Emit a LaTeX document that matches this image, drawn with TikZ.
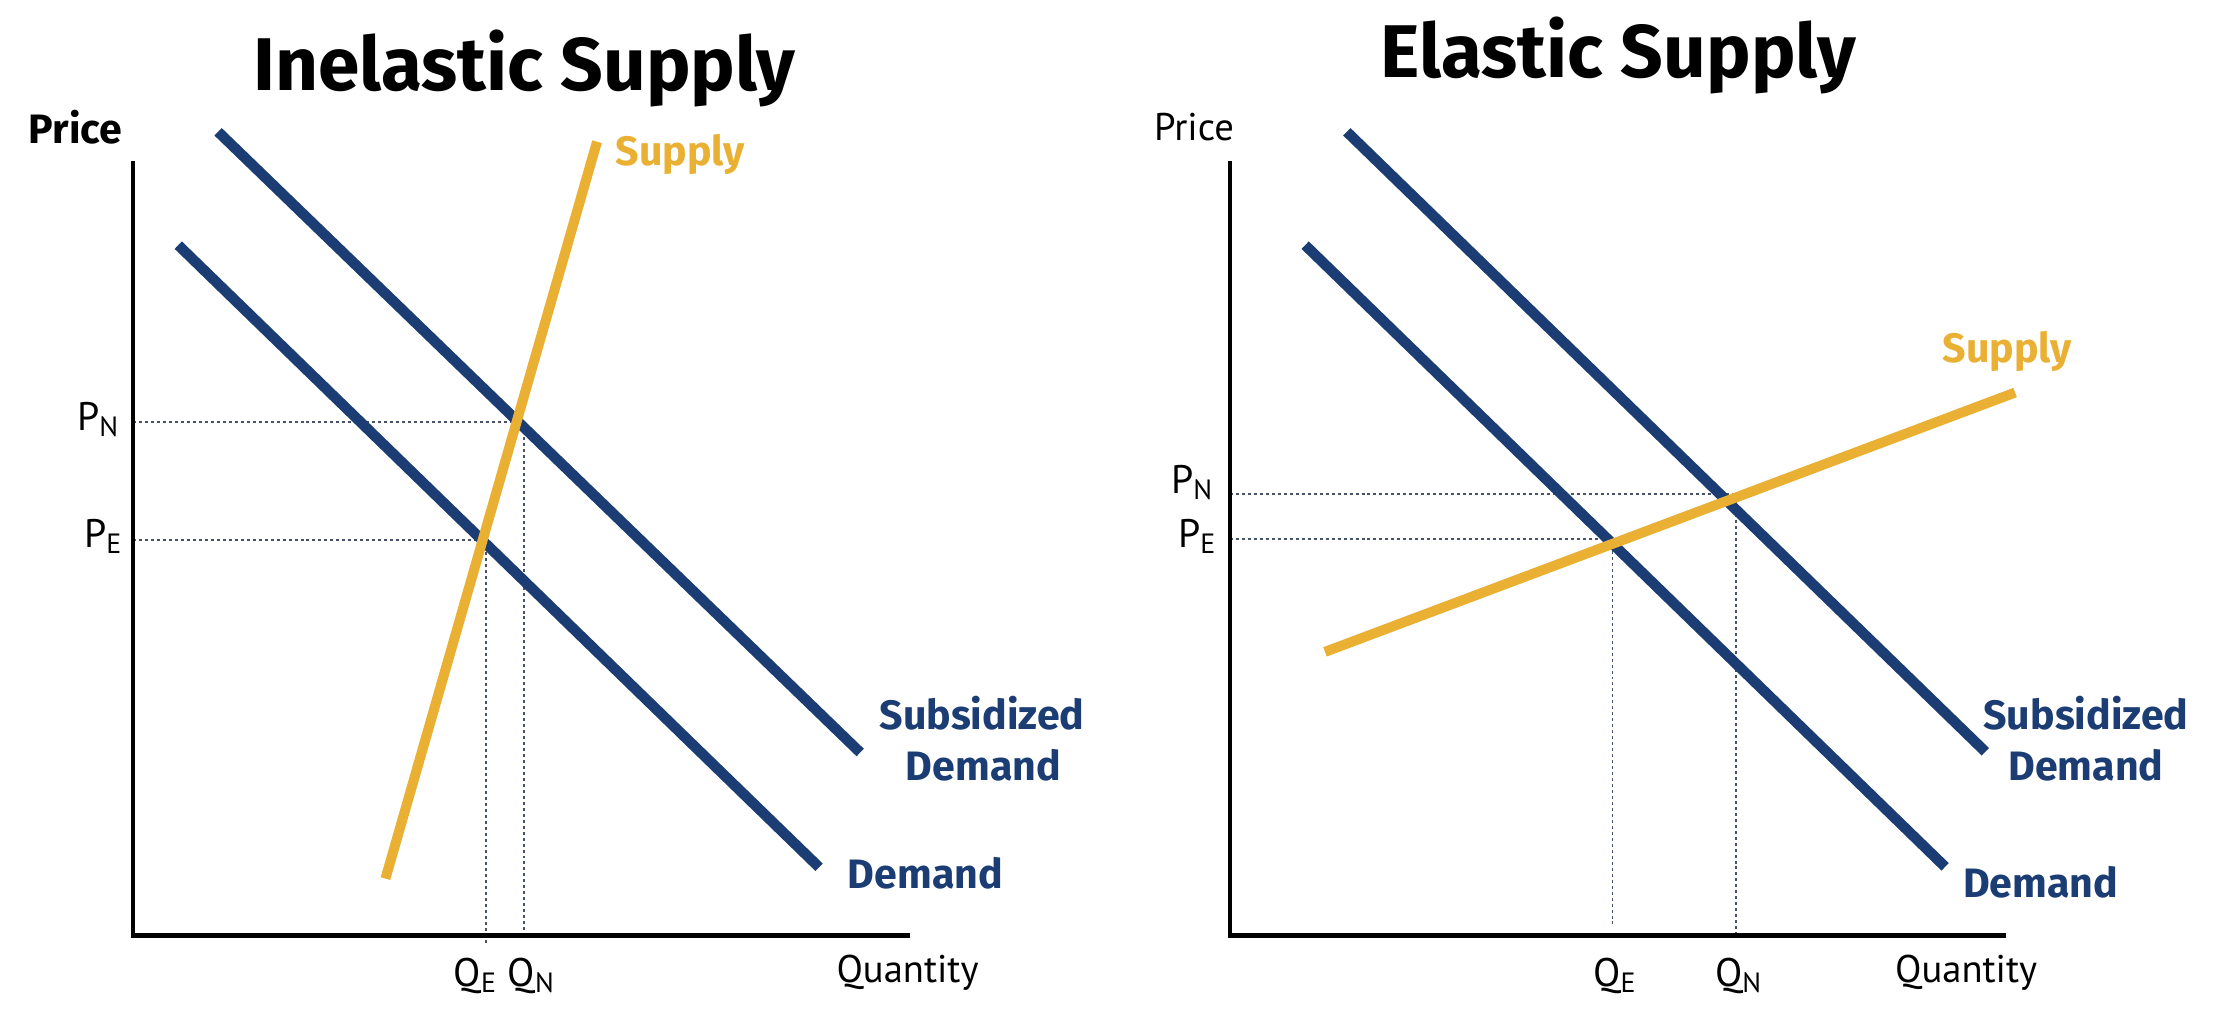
\documentclass[tikz,border=0pt]{standalone}
\usepackage{fontspec}
\setmainfont{PT Sans}
\newfontfamily\heavy{Fira Sans}
\definecolor{navy}{RGB}{27,61,115}
\definecolor{gold}{RGB}{233,176,51}
\definecolor{guidegray}{RGB}{72,82,105}

\begin{document}
\begin{tikzpicture}[x=0.02cm,y=-0.02cm,
    dem/.style={draw=navy,line width=4.2pt},
    sup/.style={draw=gold,line width=4pt},
    yax/.style={draw=black,line width=1.5pt},
    xax/.style={draw=black,line width=2pt},
    guide/.style={draw=guidegray,line width=0.65pt,dash pattern=on 1.2pt off 1.2pt},
    lbl/.style={inner sep=0pt,anchor=base west},
    ttl/.style={inner sep=0pt,anchor=base,font=\heavy\bfseries\fontsize{30}{34}\selectfont},
    crv/.style={inner sep=0pt,font=\heavy\bfseries\fontsize{16.5}{19}\selectfont},
    axl/.style={lbl,font=\fontsize{15.5}{18}\selectfont},
    pq/.style={lbl,font=\fontsize{16}{18}\selectfont}]
    \useasboundingbox (0,0) rectangle (1568,723);

    % inelastic supply
    \coordinate (ytop1) at (94,113.6);
    \coordinate (o1) at (94,660);
    \coordinate (xend1) at (642,660);
    \coordinate (Dtop1) at (125.8,173);
    \coordinate (Dbot1) at (578,612);
    \coordinate (Stop1) at (153.9,93);
    \coordinate (Sbot1) at (607,531);
    \coordinate (Sup1a) at (272,620);
    \coordinate (Sup1b) at (421.3,100);
    \coordinate (pn1) at (94,297.6);
    \coordinate (en1) at (369.8,297.6);
    \coordinate (qn1) at (369.8,660);
    \coordinate (pe1) at (94,381.1);
    \coordinate (ee1) at (343,381.1);
    \coordinate (qe1) at (343,666);

    \draw[guide] (pn1) -- (en1) -- (qn1);
    \draw[guide] (pe1) -- (ee1) -- (qe1);
    \draw[dem] (Dtop1) -- (Dbot1);
    \draw[dem] (Stop1) -- (Sbot1);
    \draw[sup] (Sup1a) -- (Sup1b);
    \draw[yax] (ytop1) -- (o1);
    \draw[xax] ([xshift=-0.75pt]o1) -- (xend1);

    \node[ttl] (T1) at (370,64) {Inelastic Supply};
    \node[crv,anchor=base west] (Price1) at (20,101.6) {Price};
    \node[crv,anchor=base west,text=gold] (SupL1) at (434,116.5) {Supply};
    \node[crv,anchor=base,text=navy] (SubL1) at (693,515) {Subsidized};
    \node[crv,anchor=base,text=navy] (SubL1b) at (694,550.6) {Demand};
    \node[crv,anchor=base west,text=navy] (DemL1) at (598,626.7) {Demand};
    \node[axl] (Qty1) at (590,693) {Quantity};
    \node[pq] (PN1) at (54,303.5) {P\textsubscript{N}};
    \node[pq] (PE1) at (59,386) {P\textsubscript{E}};
    \node[pq] (QE1) at (320,696) {Q\textsubscript{E}};
    \node[pq] (QN1) at (358,696) {Q\textsubscript{N}};

    % elastic supply
    \coordinate (ytop2) at (868,113.6);
    \coordinate (o2) at (868,660);
    \coordinate (xend2) at (1415.8,660);
    \coordinate (Dtop2) at (921,173);
    \coordinate (Dbot2) at (1372.6,611.7);
    \coordinate (Stop2) at (950.4,93);
    \coordinate (Sbot2) at (1401,530.5);
    \coordinate (Sup2a) at (935,460);
    \coordinate (Sup2b) at (1422,277);
    \coordinate (pn2) at (868,348.6);
    \coordinate (en2) at (1225,348.6);
    \coordinate (qn2) at (1225,660);
    \coordinate (pe2) at (868,380.4);
    \coordinate (ee2) at (1145,380.4);
    \coordinate (ev2) at (1138,380.4);
    \coordinate (qe2) at (1138,653);

    \draw[guide] (pn2) -- (en2) -- (qn2);
    \draw[guide] (pe2) -- (ee2);
    \draw[guide] (ev2) -- (qe2);
    \draw[dem] (Dtop2) -- (Dbot2);
    \draw[dem] (Stop2) -- (Sbot2);
    \draw[sup] (Sup2a) -- (Sup2b);
    \draw[yax] (ytop2) -- (o2);
    \draw[xax] ([xshift=-0.75pt]o2) -- (xend2);

    \node[ttl] (T2) at (1142,54.6) {Elastic Supply};
    \node[axl] (Price2) at (814,99) {Price};
    \node[crv,anchor=base west,text=gold] (SupL2) at (1370.5,256) {Supply};
    \node[crv,anchor=base,text=navy] (SubL2) at (1472,515) {Subsidized};
    \node[crv,anchor=base,text=navy] (SubL2b) at (1472,550.6) {Demand};
    \node[crv,anchor=base west,text=navy] (DemL2) at (1385,633) {Demand};
    \node[axl] (Qty2) at (1337,693) {Quantity};
    \node[pq] (PN2) at (826,348) {P\textsubscript{N}};
    \node[pq] (PE2) at (831,386) {P\textsubscript{E}};
    \node[pq] (QE2) at (1124,696) {Q\textsubscript{E}};
    \node[pq] (QN2) at (1210,696) {Q\textsubscript{N}};
\end{tikzpicture}
\end{document}
